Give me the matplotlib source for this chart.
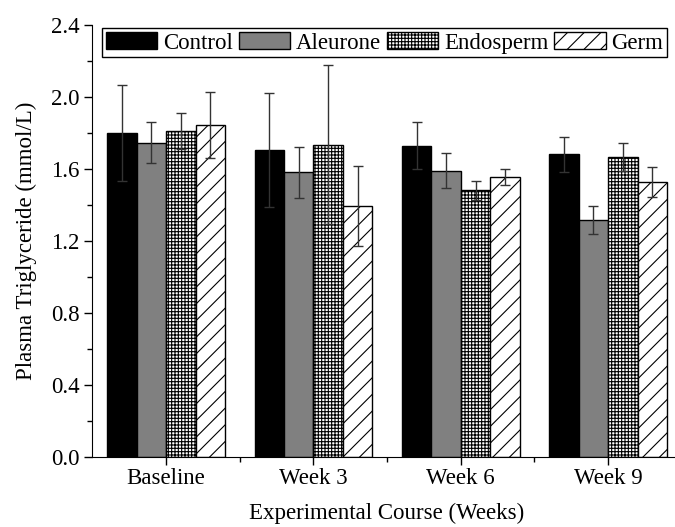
import numpy as np
import matplotlib.pyplot as plt

plt.rcParams['font.family'] = ['Liberation Serif', 'DejaVu Serif']
plt.rcParams['hatch.linewidth'] = 0.8

# Daten
weeks = ['Baseline', 'Week 3', 'Week 6', 'Week 9']
groups = ['Control', 'Aleurone', 'Endosperm', 'Germ']
control = [1.80, 1.705, 1.73, 1.68]
aleurone = [1.745, 1.58, 1.59, 1.315]
endosperm = [1.81, 1.735, 1.48, 1.665]
germ = [1.845, 1.395, 1.555, 1.525]
control_err = [0.265, 0.315, 0.13, 0.10]
aleurone_err = [0.113, 0.14, 0.098, 0.076]
endosperm_err = [0.10, 0.44, 0.055, 0.078]
germ_err = [0.183, 0.222, 0.042, 0.083]

means = [control, aleurone, endosperm, germ]
errs = [control_err, aleurone_err, endosperm_err, germ_err]
colors = ['black', '#808080', 'white', 'white']
hatches = [None, None, '+++++', '//']

fs = 16.5
fig = plt.figure(figsize=(6.75, 5.27), dpi=100)
ax = fig.add_axes([0.137, 0.1334, 0.873, 0.8192])

x = np.arange(len(weeks))
width = 0.2
for i, g in enumerate(groups):
    pos = x + (i - 1.5) * width
    ax.bar(pos, means[i], width, color=colors[i], edgecolor='black', linewidth=1.0,
           hatch=hatches[i], label=g, zorder=2)
    ax.errorbar(pos, means[i], yerr=errs[i], fmt='none', ecolor='#333333',
                elinewidth=1.0, capsize=3.6, capthick=1.0, zorder=3)

ax.set_xlim(-0.5, 3.5)
ax.set_ylim(0, 2.4)
ax.set_yticks(np.arange(0, 2.41, 0.4))
ax.set_yticks(np.arange(0.2, 2.4, 0.4), minor=True)
ax.set_yticklabels([f'{v:.1f}' for v in np.arange(0, 2.41, 0.4)])
ax.set_xticks(x)
ax.set_xticklabels(weeks)
ax.set_xticks([0.5, 1.5, 2.5], minor=True)
ax.spines['top'].set_visible(False)
ax.spines['right'].set_visible(False)
ax.tick_params(axis='both', which='major', direction='out', length=6, width=1, labelsize=fs)
ax.tick_params(axis='both', which='minor', direction='out', length=3.5, width=1)
ax.tick_params(axis='x', which='major', pad=2)

ax.set_ylabel('Plasma Triglyceride (mmol/L)', fontsize=fs, labelpad=10)
ax.set_xlabel('Experimental Course (Weeks)', fontsize=fs, labelpad=10)

leg = ax.legend(loc='upper left', bbox_to_anchor=(0.0166, 0.992), ncol=4, fontsize=fs,
                frameon=True, fancybox=False, edgecolor='black', framealpha=1,
                handlelength=2.25, handleheight=0.8, handletextpad=0.25,
                columnspacing=0.25, borderpad=0.15, borderaxespad=0)
leg.get_frame().set_linewidth(1.0)

plt.savefig('out.png', dpi=100)
